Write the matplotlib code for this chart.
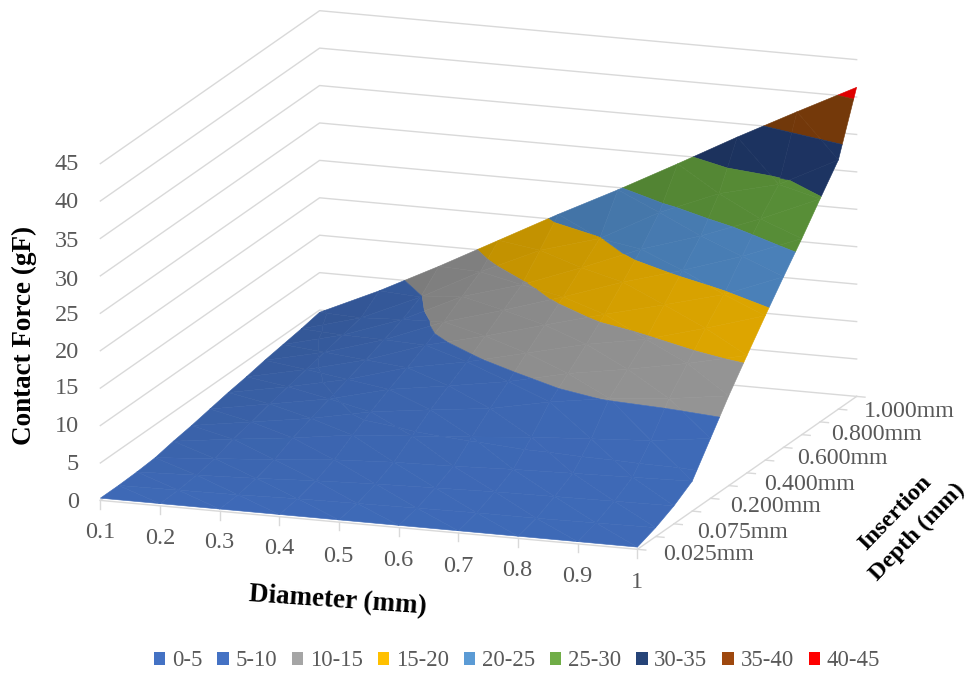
import numpy as np
import matplotlib
matplotlib.use('Agg')
import matplotlib.pyplot as plt
from matplotlib.patches import Patch
from mpl_toolkits.mplot3d.art3d import Poly3DCollection

plt.rcParams['font.family'] = ['Liberation Serif', 'DejaVu Serif']

diameters = ['0.1', '0.2', '0.3', '0.4', '0.5', '0.6', '0.7', '0.8', '0.9', '1']
depths = [0.025, 0.05, 0.075, 0.1, 0.2, 0.3, 0.4, 0.5, 0.6, 0.7, 0.8, 0.9, 1.0]
depth_labels = ['0.025mm', '0.075mm', '0.200mm', '0.400mm', '0.600mm', '0.800mm', '1.000mm']
force_ticks = [0, 5, 10, 15, 20, 25, 30, 35, 40, 45]

# contact force in gF, one list per diameter, running over the insertion depths
force_d01 = [.3, .3, .4, .6, 1.1, 1.5, 2.0, 2.5, 2.9, 3.4, 3.8, 4.2, 4.7]
force_d02 = [.3, .4, .7, 1.2, 2.1, 2.7, 3.4, 4.0, 4.6, 5.2, 5.8, 6.4, 8.3]
force_d03 = [.3, .5, 1.0, 1.8, 3.0, 3.9, 4.8, 5.7, 6.6, 7.6, 8.6, 9.9, 12.3]
force_d04 = [.3, .7, 1.4, 2.5, 4.1, 5.5, 6.8, 8.0, 9.3, 10.7, 12.4, 14.0, 16.5]
force_d05 = [.3, .8, 1.7, 2.9, 4.7, 6.5, 8.0, 9.5, 11.25, 13.0, 14.7, 17.6, 20.7]
force_d06 = [.3, .9, 1.9, 3.1, 5.3, 7.4, 9.3, 11.4, 13.45, 15.5, 17.7, 19.9, 24.7]
force_d07 = [.3, 1.0, 2.1, 3.4, 6.0, 9.0, 11.1, 13.3, 15.6, 18.2, 20.9, 24.1, 28.9]
force_d08 = [.3, 1.0, 2.2, 3.6, 6.5, 10.2, 12.4, 14.7, 17.6, 20.5, 23.4, 27.35, 33.2]
force_d09 = [.3, 1.1, 2.3, 3.8, 7.0, 10.9, 13.9, 16.9, 19.7, 23.1, 26.4, 29.3, 37.3]
force_d10 = [.3, 1.2, 2.4, 4.0, 8.0, 12.0, 15.7, 19.3, 22.8, 26.2, 29.8, 33.3, 41.3]

band_names = ['0-5', '5-10', '10-15', '15-20', '20-25', '25-30', '30-35', '35-40', '40-45']
band_edges = [0, 5, 10, 15, 20, 25, 30, 35, 40, 45]
legend_colors = ['#4472C4', '#4472C4', '#A5A5A5', '#FFC000', '#5B9BD5',
                 '#70AD47', '#264478', '#9E480E', '#FF0000']
surface_colors = ['#3E69B6', '#3E69B6', '#939393', '#DCA500', '#4A80B8',
                  '#588E37', '#1D3462', '#74390A', '#E00000']

force = np.array([force_d01, force_d02, force_d03, force_d04, force_d05,
                  force_d06, force_d07, force_d08, force_d09, force_d10])


def clip_band(tri, lo, hi):
    # Sutherland-Hodgman against the two z planes of a band
    poly = list(tri)
    for level, sign in ((lo, 1), (hi, -1)):
        out = []
        for k in range(len(poly)):
            a, b = poly[k], poly[(k + 1) % len(poly)]
            da, db = sign * (a[2] - level), sign * (b[2] - level)
            if da >= 0:
                out.append(a)
            if da * db < 0:
                t = da / (da - db)
                out.append(tuple(a[n] + t * (b[n] - a[n]) for n in range(3)))
        poly = out
        if not poly:
            break
    return poly


def facet_shade(tri):
    p = np.array(tri) * np.array([571 / 9, 645 / 12, 348 / 45])
    n = np.cross(p[1] - p[0], p[2] - p[0])
    n = n / np.linalg.norm(n) * np.sign(n[2])
    m = np.mean(tri, axis=0)
    falloff = 1 - 0.2 * (m[1] / 12) * (1 - m[0] / 9)
    return falloff * (1 + 0.035 * (n @ np.array([0.35, -0.45, 0.82]) - 0.62))


polys, faces = [], []
for i in range(force.shape[0] - 1):
    for j in range(force.shape[1] - 1):
        c = [(i, j, force[i, j]), (i + 1, j, force[i + 1, j]),
             (i + 1, j + 1, force[i + 1, j + 1]), (i, j + 1, force[i, j + 1])]
        # split along the diagonal that runs with the force contours
        for tri in ((c[0], c[1], c[3]), (c[1], c[2], c[3])):
            shade = facet_shade(tri)
            for b in range(len(band_names)):
                piece = clip_band(tri, band_edges[b], band_edges[b + 1])
                if len(piece) >= 3:
                    polys.append(piece)
                    rgb = np.array(matplotlib.colors.to_rgb(surface_colors[b]))
                    faces.append(np.clip(rgb * shade, 0, 1))

fig = plt.figure(figsize=(9.72, 6.76), dpi=100)
ax = fig.add_axes([15.3 / 972, -67.2 / 676, 902 / 972, 902 / 676], projection='3d')
ax.set_proj_type('ortho')
ax.view_init(elev=14.6, azim=-70.13)
ax.set_box_aspect((571, 645, 348))
ax.computed_zorder = False
ax.set_axis_off()

nx, ny = len(diameters) - 1, len(depths) - 1
grid_c = '#D9D9D9'

# wall gridlines
for z in force_ticks:
    ax.plot([0, 0, nx], [0, ny, ny], [z, z, z], color=grid_c, lw=1.0, zorder=1)

# floor edges and tick marks
ax.plot([0, nx, nx], [0, 0, ny], [0, 0, 0], color=grid_c, lw=1.0, zorder=1)
for i in range(nx + 1):
    ax.plot([i, i], [0, 0], [0, -1.1], color=grid_c, lw=1.0, zorder=1)
for j in range(ny + 1):
    ax.plot([nx, nx + 0.14], [j, j], [0, 0], color=grid_c, lw=1.0, zorder=1)

surf = Poly3DCollection(polys, facecolors=faces, edgecolors=faces, linewidths=0.4, zorder=2)
ax.add_collection3d(surf, autolim=False)

ax.set_xlim(0, nx)
ax.set_ylim(0, ny)
ax.set_zlim(0, 45)


def px(x, y):
    return x / 972, 1 - y / 676


tick_c = '#595959'
x_label_xy = [(100, 533), (160, 538), (219, 543), (279, 549), (338, 556),
              (398, 561), (458, 567), (517, 571), (577, 576), (637, 583)]
for s, (x, y) in zip(diameters, x_label_xy):
    fig.text(*px(x, y), s, ha='center', va='center', fontsize=17.5, color=tick_c)

z_label_y = [502, 464, 426, 389, 353, 316, 280, 242, 203, 165]
for v, y in zip(force_ticks, z_label_y):
    fig.text(*px(79, y), str(v), ha='right', va='center', fontsize=17.5, color=tick_c)

depth_label_xy = [(663, 555), (697, 532), (730, 507), (764, 484), (797, 459), (831, 435), (864, 411)]
for s, (x, y) in zip(depth_labels, depth_label_xy):
    fig.text(*px(x, y), s, ha='left', va='center', fontsize=17.2, color=tick_c)

fig.text(*px(24, 335), 'Contact Force (gF)', rotation=90, ha='center', va='center',
         fontsize=19.5, fontweight='bold', color='black')
fig.text(*px(338, 601), 'Diameter (mm)', rotation=-4, ha='center', va='center',
         fontsize=19.5, fontweight='bold', color='black')
fig.text(*px(895, 513), 'Insertion', rotation=46, ha='center', va='center',
         fontsize=17.6, fontweight='bold', color='black', rotation_mode='anchor')
fig.text(*px(917, 532), 'Depth (mm)', rotation=46, ha='center', va='center',
         fontsize=17.6, fontweight='bold', color='black', rotation_mode='anchor')

handles = [Patch(facecolor=c, edgecolor='none', label=n) for c, n in zip(legend_colors, band_names)]
fig.legend(handles=handles, loc='center', bbox_to_anchor=px(517, 661), ncol=9, frameon=False,
           fontsize=16.4, labelcolor=tick_c, handlelength=0.5, handleheight=0.5,
           handletextpad=0.3, columnspacing=0.65, borderpad=0, borderaxespad=0)

fig.savefig('out.png', dpi=100)
